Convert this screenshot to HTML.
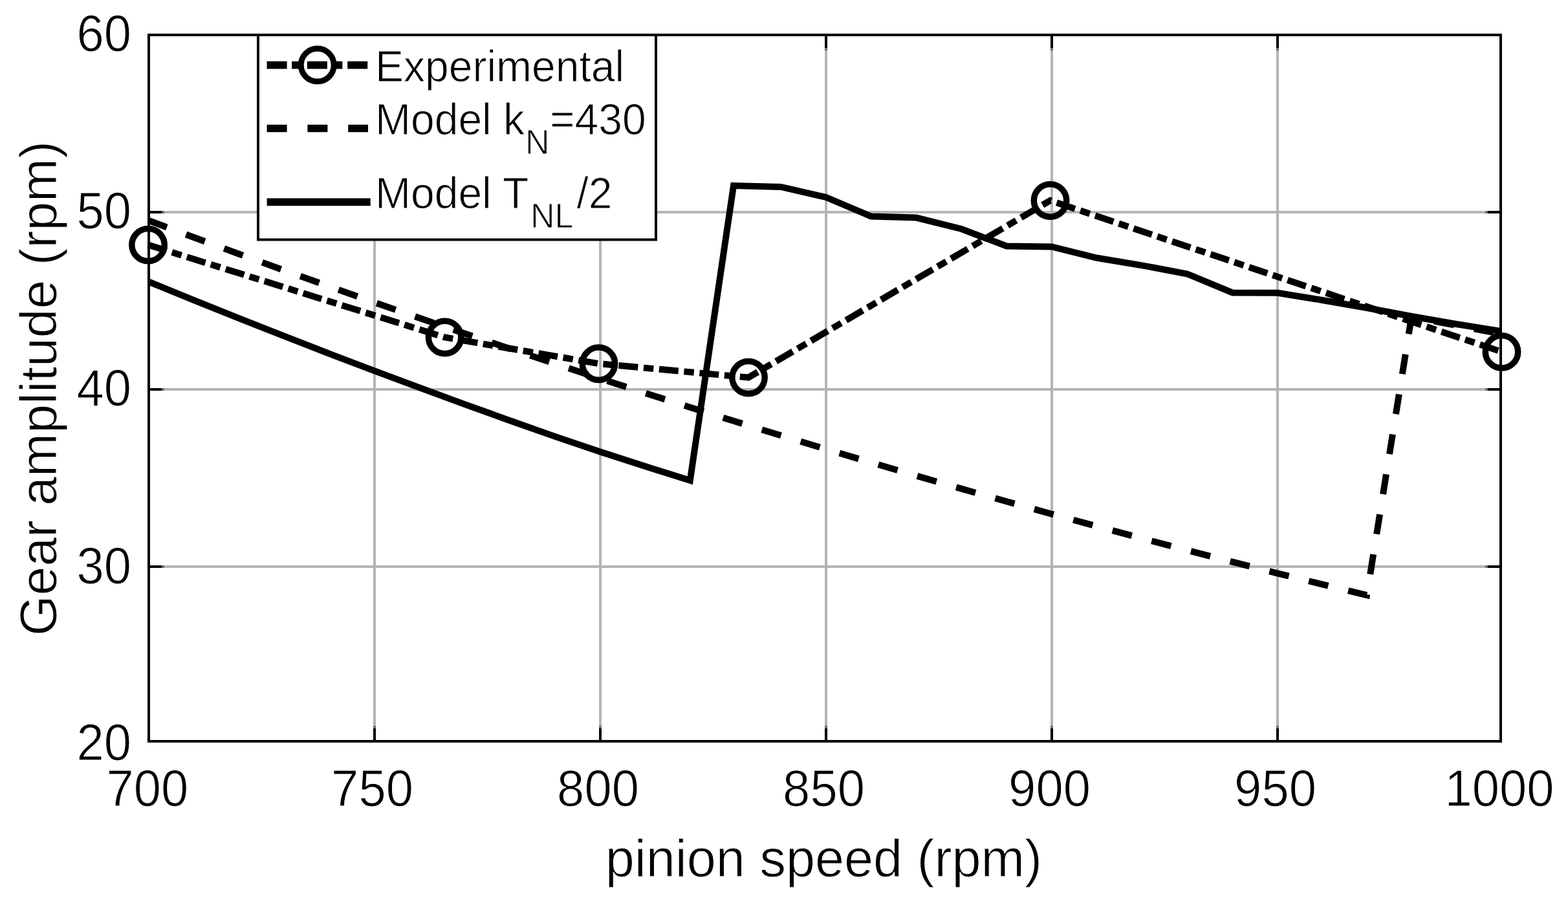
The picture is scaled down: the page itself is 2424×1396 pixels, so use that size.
<!DOCTYPE html>
<html><head><meta charset="utf-8"><title>Gear amplitude vs pinion speed</title>
<style>html,body{margin:0;padding:0;background:#fff;}body{width:2424px;height:1396px;overflow:hidden;}svg{display:block;}</style>
</head><body>
<svg width="2424" height="1396" viewBox="0 0 2424 1396">
<rect x="0" y="0" width="2424" height="1396" fill="#fff"/>
<path d="M579 54V1146 M928 54V1146 M1277 54V1146 M1626 54V1146 M1975 54V1146 M230 328H2320 M230 602H2320 M230 876H2320" stroke="#b4b4b4" stroke-width="4" fill="none"/>
<path d="M579 1126V1122 M579 74V78 M928 1126V1122 M928 74V78 M1277 1126V1122 M1277 74V78 M1626 1126V1122 M1626 74V78 M1975 1126V1122 M1975 74V78 M250 328H254 M2300 328H2296 M250 602H254 M2300 602H2296 M250 876H254 M2300 876H2296" stroke="#6e6e6e" stroke-width="4" fill="none"/>
<path d="M579 1146V1126 M579 54V74 M928 1146V1126 M928 54V74 M1277 1146V1126 M1277 54V74 M1626 1146V1126 M1626 54V74 M1975 1146V1126 M1975 54V74 M230 328H250 M2320 328H2300 M230 602H250 M2320 602H2300 M230 876H250 M2320 876H2300" stroke="#000" stroke-width="4" fill="none"/>
<g fill="none" stroke="#000" stroke-width="10" stroke-linejoin="miter" stroke-miterlimit="10">
<polyline points="229.0,378.6 687.6,521.5 925.5,562.2 1157.0,583.6 1623.5,310.0 2321.5,543.9" stroke-dasharray="30 8.6 15.5 8.63"/>
<polyline points="230.0,341.0 299.8,367.0 369.6,392.7 439.4,418.0 509.2,442.9 579.0,467.5 648.8,491.8 718.6,515.7 788.4,539.2 858.2,562.4 928.0,585.3 997.8,607.8 1067.6,630.0 1137.4,651.8 1207.2,673.2 1277.0,694.4 1346.8,715.1 1416.6,735.5 1486.4,755.6 1556.2,775.3 1626.0,794.7 1695.8,813.7 1765.6,832.4 1835.4,850.7 1905.2,868.7 1975.0,886.3 2044.0,903.4 2113.0,920.2 2182.0,490.0 2251.0,503.0 2320.0,516.0" stroke-dasharray="31 31.67" stroke-dashoffset="1.2"/>
<polyline points="230.0,435.6 299.8,464.1 369.6,492.1 439.4,519.7 509.2,546.8 579.0,573.3 648.8,599.4 718.6,625.1 788.4,650.2 858.2,674.9 928.0,698.5 997.8,721.0 1066.8,742.8 1134.0,287.0 1207.2,289.0 1277.0,305.0 1346.8,334.5 1416.6,336.6 1486.4,354.0 1556.2,380.5 1626.0,381.5 1695.8,398.8 1765.6,410.3 1835.4,423.5 1905.2,452.4 1975.0,452.8 2044.0,464.0 2113.0,476.0 2182.0,489.0 2251.0,501.0 2320.0,512.0"/>
<circle cx="229.0" cy="378.6" r="25.2" stroke-width="9.5"/>
<circle cx="687.6" cy="521.5" r="25.2" stroke-width="9.5"/>
<circle cx="925.5" cy="562.2" r="25.2" stroke-width="9.5"/>
<circle cx="1157.0" cy="583.6" r="25.2" stroke-width="9.5"/>
<circle cx="1623.5" cy="310.0" r="25.2" stroke-width="9.5"/>
<circle cx="2321.5" cy="543.9" r="25.2" stroke-width="9.5"/>
</g>
<rect x="230" y="54" width="2090" height="1092" fill="none" stroke="#000" stroke-width="4"/>
<rect x="399" y="54" width="615" height="316.5" fill="#fff" stroke="#000" stroke-width="4"/>
<g fill="none" stroke="#000" stroke-width="11.6">
<path d="M412.6 100.6H569" stroke-dasharray="31 7.5 16 7.8"/>
<circle cx="490.7" cy="100.6" r="25.5" stroke-width="9"/>
<path d="M412.6 198.5H569" stroke-dasharray="31 31.8"/>
<path d="M412.6 312.4H572.7"/>
</g>
<g font-family="'Liberation Sans', Arial, Helvetica, sans-serif" fill="#000" stroke="#fff" stroke-width="1.00">
<text transform="translate(203.0,79.2) scale(1,1.045)" font-size="76" text-anchor="end">60</text>
<text transform="translate(203.0,353.4) scale(1,1.045)" font-size="76" text-anchor="end">50</text>
<text transform="translate(203.0,627.3) scale(1,1.045)" font-size="76" text-anchor="end">40</text>
<text transform="translate(203.0,901.5) scale(1,1.045)" font-size="76" text-anchor="end">30</text>
<text transform="translate(203.0,1175.0) scale(1,1.045)" font-size="76" text-anchor="end">20</text>
<text transform="translate(227.8,1245.5) scale(1,1.045)" font-size="76" text-anchor="middle">700</text>
<text transform="translate(575.5,1245.5) scale(1,1.045)" font-size="76" text-anchor="middle">750</text>
<text transform="translate(924.5,1245.5) scale(1,1.045)" font-size="76" text-anchor="middle">800</text>
<text transform="translate(1273.5,1245.5) scale(1,1.045)" font-size="76" text-anchor="middle">850</text>
<text transform="translate(1622.5,1245.5) scale(1,1.045)" font-size="76" text-anchor="middle">900</text>
<text transform="translate(1971.5,1245.5) scale(1,1.045)" font-size="76" text-anchor="middle">950</text>
<text transform="translate(2318.0,1245.5) scale(1,1.045)" font-size="76" text-anchor="middle">1000</text>
<text x="1273.4" y="1355.0" font-size="81" text-anchor="middle">pinion speed (rpm)</text>
<text transform="translate(86.7,600.5) rotate(-90)" text-anchor="middle" font-size="80.5">Gear amplitude (rpm)</text>
<text transform="translate(580.0,125.8) scale(1,1.04)" font-size="66">Experimental</text>
<text transform="translate(580.0,207.6) scale(1,1.04)" font-size="66">Model k</text>
<text transform="translate(812.0,238.4) scale(1,1.04)" font-size="52">N</text>
<text transform="translate(850.0,207.6) scale(1,1.04)" font-size="66">=430</text>
<text transform="translate(580.0,321.6) scale(1,1.04)" font-size="66">Model T</text>
<text transform="translate(820.0,352.4) scale(1,1.04)" font-size="52">NL</text>
<text transform="translate(891.5,321.6) scale(1,1.04)" font-size="66">/2</text>
</g>
</svg>
</body></html>
